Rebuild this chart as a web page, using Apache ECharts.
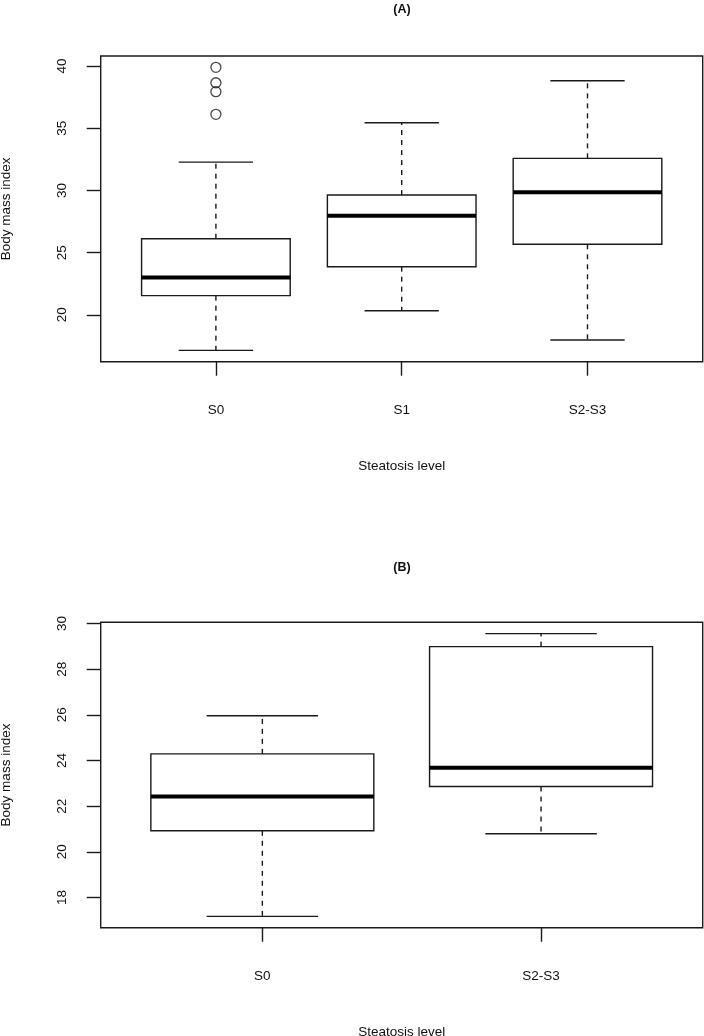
<!DOCTYPE html>
<html>
<head>
<meta charset="utf-8">
<script src="https://cdn.jsdelivr.net/npm/echarts@6/dist/echarts.min.js"></script>
<style>
html,body{margin:0;padding:0;background:#fff;}
#chart{width:704px;height:1036px;}
</style>
</head>
<body>
<div id="chart"></div>
<script>
// ---------- Panel (A) ----------
const categoriesA = ['S0', 'S1', 'S2-S3'];
const lowA  = [17.14, 20.33, 17.97];
const q1A   = [21.54, 23.87, 25.67];
const medA  = [23.01, 27.97, 29.85];
const q3A   = [26.12, 29.63, 32.58];
const highA = [32.28, 35.44, 38.82];
const outlierCatA = [1, 1, 1, 1];
const outlierValA = [39.90, 38.66, 37.94, 36.12];
const yTicksA = [20, 25, 30, 35, 40];

// ---------- Panel (B) ----------
const categoriesB = ['S0', 'S2-S3'];
const lowB  = [17.17, 20.79];
const q1B   = [20.92, 22.86];
const medB  = [22.42, 23.68];
const q3B   = [24.29, 28.99];
const highB = [25.96, 29.56];
const yTicksB = [18, 20, 22, 24, 26, 28, 30];

const titleA = '(A)';
const titleB = '(B)';
const xTitle = 'Steatosis level';
const yTitle = 'Body mass index';

const INK = '#1a1a1a';
const FONT = 'Liberation Sans';

function rRange(vals) {
  const mn = Math.min(...vals), mx = Math.max(...vals);
  const pad = (mx - mn) * 0.04;
  return [mn - pad, mx + pad];
}

function boxRender(params, api) {
  const x = api.value(0);
  const lo = api.value(1), q1 = api.value(2), md = api.value(3), q3 = api.value(4), hi = api.value(5);
  const hw = 0.4, sw = 0.2;
  const c = (a, b) => api.coord([a, b]);
  const tl = c(x - hw, q3), br = c(x + hw, q1);
  const solid = { stroke: INK, lineWidth: 1.4, fill: null };
  const dashed = { stroke: INK, lineWidth: 1.4, lineDash: [5, 5] };
  const line = (a, b, style) => ({ type: 'line', shape: { x1: a[0], y1: a[1], x2: b[0], y2: b[1] }, style });
  return {
    type: 'group',
    children: [
      line(c(x, q3), c(x, hi), dashed),
      line(c(x, q1), c(x, lo), dashed),
      line(c(x - sw, hi), c(x + sw, hi), solid),
      line(c(x - sw, lo), c(x + sw, lo), solid),
      { type: 'rect', shape: { x: tl[0], y: tl[1], width: br[0] - tl[0], height: br[1] - tl[1] },
        style: { stroke: INK, lineWidth: 1.4, fill: '#fff' } },
      line(c(x - hw, md), c(x + hw, md), { stroke: '#000', lineWidth: 4 })
    ]
  };
}

function boxData(lo, q1, md, q3, hi) {
  return lo.map((v, i) => [i + 1, lo[i], q1[i], md[i], q3[i], hi[i]]);
}

const yRangeA = rRange(lowA.concat(highA, outlierValA));
const yRangeB = rRange(lowB.concat(highB));
const nA = categoriesA.length, nB = categoriesB.length;
const xPadA = nA * 0.04, xPadB = nB * 0.04;

function xAxisFor(gridIndex, cats, pad) {
  const idx = cats.map((_, i) => i + 1);
  return {
    type: 'value', gridIndex,
    min: 0.5 - pad, max: cats.length + 0.5 + pad,
    axisLine: { show: false },
    splitLine: { show: false },
    axisTick: { show: true, length: 14, customValues: idx, lineStyle: { color: INK, width: 1.4 } },
    axisLabel: { customValues: idx, margin: 42, fontFamily: FONT, fontSize: 13.5, color: '#111',
      formatter: v => cats[Math.round(v) - 1] || '' },
    name: xTitle, nameLocation: 'middle', nameGap: 98,
    nameTextStyle: { fontFamily: FONT, fontSize: 13.5, color: '#111' }
  };
}
function yAxisFor(gridIndex, range, ticks) {
  return {
    type: 'value', gridIndex,
    min: range[0], max: range[1],
    axisLine: { show: false },
    splitLine: { show: false },
    axisTick: { show: true, length: 14, customValues: ticks, lineStyle: { color: INK, width: 1.4 } },
    axisLabel: { customValues: ticks, rotate: 90, margin: 31, fontFamily: FONT, fontSize: 13.5, color: '#111' },
    name: yTitle, nameLocation: 'middle', nameGap: 87, nameRotate: 90,
    nameTextStyle: { fontFamily: FONT, fontSize: 13.5, color: '#111' }
  };
}

const gridBase = { left: 100.7, right: 1.3, show: true, borderColor: INK, borderWidth: 1.4,
  backgroundColor: 'transparent', containLabel: false, outerBoundsMode: 'none' };

const option = {
  animation: false,
  backgroundColor: '#fff',
  title: [
    { text: titleA, left: 402, top: 3, padding: 0, textAlign: 'center',
      textStyle: { fontFamily: FONT, fontWeight: 'bold', fontSize: 12.5, color: '#111' } },
    { text: titleB, left: 402, top: 561, padding: 0, textAlign: 'center',
      textStyle: { fontFamily: FONT, fontWeight: 'bold', fontSize: 12.5, color: '#111' } }
  ],
  grid: [
    Object.assign({}, gridBase, { top: 56, height: 305.7 }),
    Object.assign({}, gridBase, { top: 622.3, height: 305.4 })
  ],
  xAxis: [xAxisFor(0, categoriesA, xPadA), xAxisFor(1, categoriesB, xPadB)],
  yAxis: [yAxisFor(0, yRangeA, yTicksA), yAxisFor(1, yRangeB, yTicksB)],
  series: [
    { type: 'custom', xAxisIndex: 0, yAxisIndex: 0, renderItem: boxRender,
      encode: { x: 0, y: [1, 2, 3, 4, 5] }, data: boxData(lowA, q1A, medA, q3A, highA), clip: false },
    { type: 'scatter', xAxisIndex: 0, yAxisIndex: 0, symbol: 'circle', symbolSize: 10,
      itemStyle: { color: 'transparent', borderColor: INK, borderWidth: 1.3 },
      data: outlierCatA.map((c, i) => [c, outlierValA[i]]) },
    { type: 'custom', xAxisIndex: 1, yAxisIndex: 1, renderItem: boxRender,
      encode: { x: 0, y: [1, 2, 3, 4, 5] }, data: boxData(lowB, q1B, medB, q3B, highB), clip: false }
  ]
};

const chart = echarts.init(document.getElementById('chart'), null, { renderer: 'canvas' });
chart.setOption(option);
</script>
</body>
</html>
